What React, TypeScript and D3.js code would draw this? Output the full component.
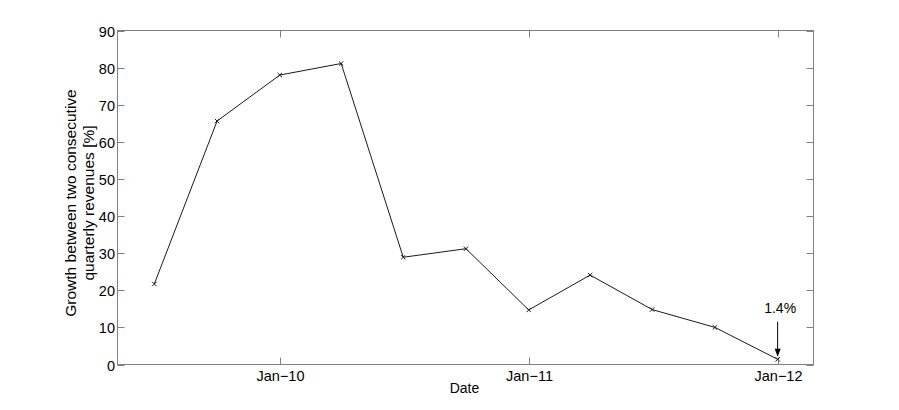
import React, { useEffect, useRef } from "react";
import * as d3 from "d3";

// quarter-end dates and growth values
const quarters = [
  "2009-06-30", "2009-09-30", "2009-12-31", "2010-03-31", "2010-06-30",
  "2010-09-30", "2010-12-31", "2011-03-31", "2011-06-30", "2011-09-30",
  "2011-12-31",
];
const growth = [21.7, 65.6, 78.0, 81.1, 28.9, 31.2, 14.7, 24.1, 14.8, 10.0, 1.4];
const yTicks = [0, 10, 20, 30, 40, 50, 60, 70, 80, 90];
const xTickDates = ["2010-01-01", "2011-01-01", "2012-01-01"];
const xTickLabels = ["Jan\u221210", "Jan\u221211", "Jan\u221212"];
const yLabelLines = ["Growth between two consecutive", "quarterly revenues [%]"];
const xLabel = "Date";
const callout = "1.4%";

const App = () => {
  const svgRef = useRef<SVGSVGElement>(null);

  useEffect(() => {
    const width = 899, height = 410;
    const left = 117.5, right = 813.5, top = 30.5, bottom = 364.5;
    const font = "'Liberation Sans', Arial, sans-serif";
    const axisColor = "#808080";

    const svg = d3.select(svgRef.current)
      .attr("width", width)
      .attr("height", height);
    svg.selectAll("*").remove();

    const parse = d3.utcParse("%Y-%m-%d");
    const data = quarters.map((q, i) => ({ date: parse(q)!, value: growth[i] }));

    const x = d3.scaleUtc()
      .domain([new Date(Date.UTC(2009, 4, 7)), new Date(Date.UTC(2012, 1, 21, 14))])
      .range([left, right]);
    const y = d3.scaleLinear().domain([0, 90]).range([bottom, top]);

    svg.append("rect")
      .attr("width", width).attr("height", height).attr("fill", "white");

    // axes box
    svg.append("rect")
      .attr("x", left).attr("y", top)
      .attr("width", right - left).attr("height", bottom - top)
      .attr("fill", "none").attr("stroke", axisColor).attr("stroke-width", 1);

    const tickLen = 7;
    const xTicks = xTickDates.map(d => parse(d)!);

    // x ticks (bottom + top, pointing inward)
    const xt = svg.append("g");
    xTicks.forEach((d, i) => {
      const px = Math.round(x(d)) + 0.5;
      xt.append("line").attr("x1", px).attr("x2", px)
        .attr("y1", bottom).attr("y2", bottom - tickLen).attr("stroke", axisColor);
      xt.append("line").attr("x1", px).attr("x2", px)
        .attr("y1", top).attr("y2", top + tickLen).attr("stroke", axisColor);
      xt.append("text")
        .attr("x", px).attr("y", bottom + 16)
        .attr("text-anchor", "middle")
        .attr("font-family", font).attr("font-size", 14.5)
        .text(xTickLabels[i]);
    });

    // y ticks (left + right, pointing inward)
    const yt = svg.append("g");
    yTicks.forEach(v => {
      const py = Math.round(y(v)) + 0.5;
      yt.append("line").attr("x1", left).attr("x2", left + tickLen)
        .attr("y1", py).attr("y2", py).attr("stroke", axisColor);
      yt.append("line").attr("x1", right).attr("x2", right - tickLen)
        .attr("y1", py).attr("y2", py).attr("stroke", axisColor);
      yt.append("text")
        .attr("x", left - 2.5).attr("y", py)
        .attr("text-anchor", "end")
        .attr("dominant-baseline", "central")
        .attr("font-family", font).attr("font-size", 14.5)
        .text(v);
    });

    // axis labels
    svg.append("text")
      .attr("x", (left + right) / 2 - 1).attr("y", bottom + 28)
      .attr("text-anchor", "middle")
      .attr("font-family", font).attr("font-size", 14)
      .text(xLabel);

    const cy = 203;
    [70, 88].forEach((cx, i) => {
      svg.append("text")
        .attr("transform", `translate(${cx},${cy}) rotate(-90)`)
        .attr("text-anchor", "middle")
        .attr("dominant-baseline", "central")
        .attr("font-family", font).attr("font-size", 15.5)
        .text(yLabelLines[i]);
    });

    // series line
    const line = d3.line<{ date: Date; value: number }>()
      .x(d => x(d.date))
      .y(d => y(d.value));

    svg.append("path")
      .datum(data)
      .attr("d", line)
      .attr("fill", "none")
      .attr("stroke", "#1a1a1a")
      .attr("stroke-width", 1);

    // x markers
    const m = 2.2;
    svg.append("g")
      .selectAll("path")
      .data(data)
      .join("path")
      .attr("d", d => {
        const px = x(d.date), py = y(d.value);
        return `M${px - m},${py - m}L${px + m},${py + m}M${px - m},${py + m}L${px + m},${py - m}`;
      })
      .attr("stroke", "#1a1a1a")
      .attr("stroke-width", 1);

    // annotation on last point
    const last = data[data.length - 1];
    const ax = x(last.date), ay = y(last.value);
    const arrowTop = ay - 37.5;
    const tip = ay - 2.5;
    svg.append("line")
      .attr("x1", ax).attr("x2", ax)
      .attr("y1", arrowTop).attr("y2", tip - 6)
      .attr("stroke", "black").attr("stroke-width", 1);
    svg.append("path")
      .attr("d", `M${ax - 3},${tip - 8}L${ax + 3},${tip - 8}L${ax},${tip}Z`)
      .attr("fill", "black");
    svg.append("text")
      .attr("x", ax + 2.5).attr("y", arrowTop - 9)
      .attr("text-anchor", "middle")
      .attr("font-family", font).attr("font-size", 14)
      .text(callout);
  }, []);

  return (
    <svg
      ref={svgRef}
      style={{ position: "absolute", left: 0, top: 0, display: "block" }}
    />
  );
};

export default App;
